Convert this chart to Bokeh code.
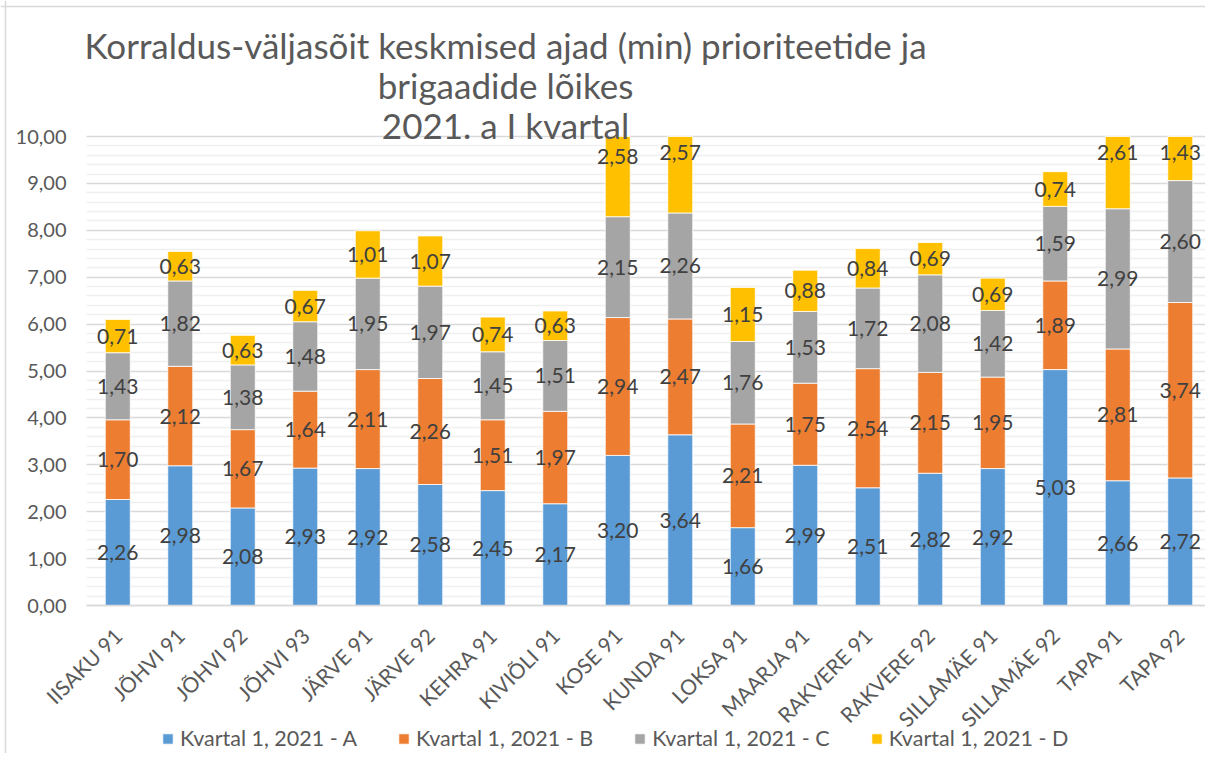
import math
from bokeh.plotting import figure
from bokeh.models import (ColumnDataSource, Range1d, FixedTicker, Label, Legend, LegendItem,
                          LinearAxis, Span)
from bokeh.core.properties import value
from bokeh.embed import file_html
from bokeh.resources import INLINE

# ---------------- data ----------------
categories = ["IISAKU 91", "JÕHVI 91", "JÕHVI 92", "JÕHVI 93", "JÄRVE 91", "JÄRVE 92",
              "KEHRA 91", "KIVIÕLI 91", "KOSE 91", "KUNDA 91", "LOKSA 91", "MAARJA 91",
              "RAKVERE 91", "RAKVERE 92", "SILLAMÄE 91", "SILLAMÄE 92", "TAPA 91", "TAPA 92"]
series_names = ["Kvartal 1, 2021 - A", "Kvartal 1, 2021 - B",
                "Kvartal 1, 2021 - C", "Kvartal 1, 2021 - D"]
a_vals = [2.26, 2.98, 2.08, 2.93, 2.92, 2.58, 2.45, 2.17, 3.20, 3.64, 1.66, 2.99, 2.51, 2.82, 2.92, 5.03, 2.66, 2.72]
b_vals = [1.70, 2.12, 1.67, 1.64, 2.11, 2.26, 1.51, 1.97, 2.94, 2.47, 2.21, 1.75, 2.54, 2.15, 1.95, 1.89, 2.81, 3.74]
c_vals = [1.43, 1.82, 1.38, 1.48, 1.95, 1.97, 1.45, 1.51, 2.15, 2.26, 1.76, 1.53, 1.72, 2.08, 1.42, 1.59, 2.99, 2.60]
d_vals = [0.71, 0.63, 0.63, 0.67, 1.01, 1.07, 0.74, 0.63, 2.58, 2.57, 1.15, 0.88, 0.84, 0.69, 0.69, 0.74, 2.61, 1.43]
y_tick_values = [0, 1, 2, 3, 4, 5, 6, 7, 8, 9, 10]
title_lines = ["Korraldus-väljasõit keskmised ajad (min) prioriteetide ja",
               "brigaadide lõikes",
               "2021. a I kvartal"]

# ---------------- style / layout constants ----------------
colors = ["#5B9BD5", "#ED7D31", "#A5A5A5", "#FFC000"]
FONT = "Lato"
GRAY_TEXT = "#595959"
LABEL_TEXT = "#404040"
BORDER = "#D9D9D9"
Y_MAX = 10          # value axis maximum (bars are cut here)
LABEL_CAP = 9.66    # data labels of cut bars sit here
PX_PER_UNIT = 46.9  # vertical pixels per value unit
PX_PER_CAT = 62.5   # horizontal pixels per category
FIG_W, FIG_H = 1205, 753
PAGE_LEFT, PAGE_TOP = 2, 1       # where the figure lands on the photographed page
ZERO_PAGE_Y = 606                # value 0 on the page
PLOT_LEFT_PAGE_X = 88            # left edge of the category band on the page

n = len(categories)
xs = list(range(n))
series = [a_vals, b_vals, c_vals, d_vals]

y_lo = -((PAGE_TOP + FIG_H) - ZERO_PAGE_Y) / PX_PER_UNIT
y_hi = (ZERO_PAGE_Y - PAGE_TOP) / PX_PER_UNIT
x_lo = -0.5 - (PLOT_LEFT_PAGE_X - PAGE_LEFT) / PX_PER_CAT
x_hi = x_lo + FIG_W / PX_PER_CAT

p = figure(width=FIG_W, height=FIG_H, output_backend="svg", toolbar_location=None, title=None,
           x_range=Range1d(x_lo, x_hi), y_range=Range1d(y_lo, y_hi),
           x_axis_location=None, y_axis_location=None,
           min_border_left=0, min_border_right=0, min_border_top=0, min_border_bottom=0)
p.outline_line_color = None
p.background_fill_color = "white"

# chart-area border (left and top)
p.add_layout(Span(location=x_lo + (7 - PAGE_LEFT) / PX_PER_CAT, dimension="height",
                  line_color=BORDER, line_width=1.5))
p.add_layout(Span(location=(ZERO_PAGE_Y - 7) / PX_PER_UNIT, dimension="width",
                  line_color=BORDER, line_width=1.5))

# grid (only within the plot band, up to the axis maximum)
minor = [round(k * 0.2, 1) for k in range(0, 51) if k % 5 != 0]
yticker = FixedTicker(ticks=y_tick_values, minor_ticks=minor)
p.xgrid.visible = False
p.ygrid.ticker = yticker
p.ygrid.cross_bounds = (-0.5, x_hi)
p.ygrid.grid_line_color = "#D9D9D9"
p.ygrid.grid_line_width = 1.5
p.ygrid.minor_grid_line_color = "#F0F0F0"
p.ygrid.minor_grid_line_width = 1.5

# stacked bars, cut at the axis maximum
renderers = []
lx, ly, lt = [], [], []
bottom = [0.0] * n
for vals, col in zip(series, colors):
    bots = [min(b, Y_MAX) for b in bottom]
    tops = [min(b + v, Y_MAX) for b, v in zip(bottom, vals)]
    src = ColumnDataSource(dict(x=xs, bottom=bots, top=tops))
    r = p.vbar(x="x", bottom="bottom", top="top", width=0.4, source=src,
               fill_color=col, line_color="white", line_width=0.8)
    renderers.append(r)
    for i, v in enumerate(vals):
        lx.append(xs[i])
        ly.append(min(bottom[i] + v / 2.0, LABEL_CAP))
        lt.append(f"{v:.2f}".replace(".", ","))
        bottom[i] += v

lab_src = ColumnDataSource(dict(x=lx, y=ly, t=lt))
p.text(x="x", y="y", text="t", source=lab_src, text_align="center", text_baseline="middle",
       text_font=value(FONT), text_font_size="21px", text_color=LABEL_TEXT)

# y axis at the left edge of the category band
yaxis = LinearAxis(fixed_location=-0.5, ticker=yticker, bounds=(0, Y_MAX),
                   major_label_overrides={t: f"{t:.2f}".replace(".", ",") for t in y_tick_values},
                   axis_line_color=None, major_tick_line_color=None, minor_tick_line_color=None,
                   major_label_text_font=FONT, major_label_text_font_size="20px",
                   major_label_text_color=GRAY_TEXT, major_label_standoff=14)
p.add_layout(yaxis, "left")

# x axis drawn at value 0
xaxis = LinearAxis(fixed_location=0, ticker=FixedTicker(ticks=xs), bounds=(-0.5, x_hi),
                   major_label_overrides={i: c for i, c in zip(xs, categories)},
                   major_label_orientation=math.pi / 4,
                   axis_line_color="#D9D9D9", axis_line_width=1.5,
                   major_tick_line_color=None, minor_tick_line_color=None,
                   major_label_text_font=FONT, major_label_text_font_size="21px",
                   major_label_text_color=GRAY_TEXT, major_label_standoff=20)
p.add_layout(xaxis, "below")

# title (three lines)
title_x = -0.5 + (507 - PLOT_LEFT_PAGE_X) / PX_PER_CAT
for k, line in enumerate(title_lines):
    yy = (ZERO_PAGE_Y - (45 + 40 * k)) / PX_PER_UNIT
    p.add_layout(Label(x=title_x, y=yy, text=line, text_align="center", text_baseline="middle",
                       text_font=FONT, text_font_size="35px", text_color=GRAY_TEXT))

# legend at the bottom
items = [LegendItem(label=nm, renderers=[r]) for nm, r in zip(series_names, renderers)]
legend = Legend(items=items, orientation="horizontal", location=(163 - PAGE_LEFT, 2),
                glyph_width=13, glyph_height=13, label_standoff=6, spacing=40,
                label_text_font=FONT, label_text_font_size="21.5px", label_text_color=GRAY_TEXT,
                border_line_color=None, background_fill_alpha=0, padding=0, margin=0)
p.add_layout(legend, "center")

open("out.html", "w").write(file_html(p, INLINE))
